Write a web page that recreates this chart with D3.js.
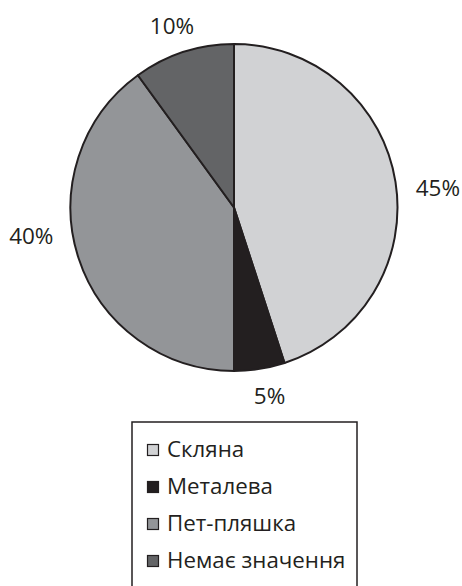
<!DOCTYPE html>
<html>
<head>
<meta charset="utf-8">
<script src="https://cdn.jsdelivr.net/npm/d3@7"></script>
<style>
  html, body { margin: 0; padding: 0; background: #fff; }
  svg { display: block; font-family: "Open Sans", "Noto Sans", sans-serif; }
</style>
</head>
<body>
<svg id="chart" width="462" height="586"></svg>
<script>
// Тип тари
const categories = ["Скляна", "Металева", "Пет-пляшка", "Немає значення"];
const values = [45, 5, 40, 10];
const colors = ["#d1d2d4", "#231f20", "#939598", "#636466"];

const svg = d3.select("#chart");
const cx = 234, cy = 207.5, radius = 163.5;

const pie = d3.pie().sort(null).value(d => d.value);
const arcs = pie(categories.map((c, i) => ({ name: c, value: values[i], color: colors[i] })));

const arc = d3.arc().innerRadius(0).outerRadius(radius);

const g = svg.append("g").attr("transform", `translate(${cx},${cy})`);

g.selectAll("path.slice")
  .data(arcs)
  .join("path")
  .attr("class", "slice")
  .attr("d", arc)
  .attr("fill", d => d.data.color)
  .attr("stroke", "#231f20")
  .attr("stroke-width", 2)
  .attr("stroke-linejoin", "round");

// percentage labels on an elliptical ring outside the pie; small angular nudges keep them clear of the rim
const labelRx = 205, labelRy = 191;
const labelNudge = [3, -1, 9.4, 0.4]; // degrees
g.selectAll("text.pct")
  .data(arcs)
  .join("text")
  .attr("class", "pct")
  .attr("transform", (d, i) => {
    const a = (d.startAngle + d.endAngle) / 2 + labelNudge[i] * Math.PI / 180;
    const x = labelRx * Math.sin(a);
    const y = -labelRy * Math.cos(a);
    return `translate(${x},${y})`;
  })
  .attr("text-anchor", "middle")
  .attr("dy", "0.36em")
  .attr("font-size", 22.5)
  .attr("fill", "#231f20")
  .text(d => d.data.value + "%");

// legend
const legend = svg.append("g");
legend.append("rect")
  .attr("x", 132).attr("y", 422)
  .attr("width", 225).attr("height", 180)
  .attr("fill", "#fff")
  .attr("stroke", "#231f20")
  .attr("stroke-width", 1.5);

const rowY = d3.scalePoint().domain(categories).range([456, 567]);

const items = legend.selectAll("g.item")
  .data(arcs)
  .join("g")
  .attr("class", "item")
  .attr("transform", d => `translate(0,${rowY(d.data.name)})`);

items.append("rect")
  .attr("x", 147.5).attr("y", -11.5)
  .attr("width", 11).attr("height", 11)
  .attr("fill", d => d.data.color)
  .attr("stroke", "#231f20")
  .attr("stroke-width", 1.2);

items.append("text")
  .attr("x", 167)
  .attr("y", 0.5)
  .attr("font-size", 22.3)
  .attr("fill", "#231f20")
  .text(d => d.data.name);
</script>
</body>
</html>
